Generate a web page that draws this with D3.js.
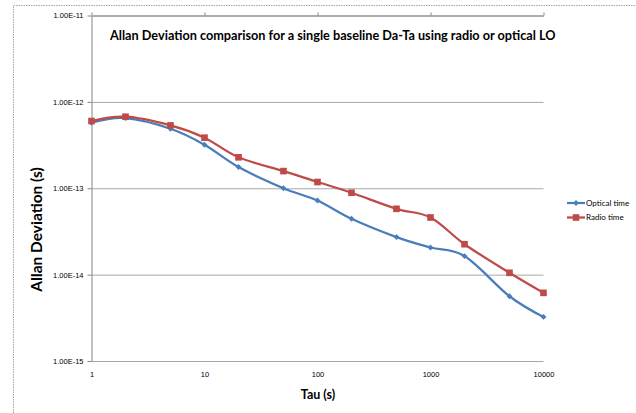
<!DOCTYPE html>
<html>
<head>
<meta charset="utf-8">
<script src="https://cdn.jsdelivr.net/npm/d3@7"></script>
<style>
  body { margin: 0; background: #fff; }
  svg { display: block; font-family: Lato, "Liberation Sans", sans-serif; }
  .tick text { fill: #000; }
</style>
</head>
<body>
<svg id="chart"></svg>
<script>
var width = 636,
    height = 413;

var tau = [1, 2, 5, 10, 20, 50, 100, 200, 500, 1000, 2000, 5000, 10000];
var optical = [5.74e-13, 6.49e-13, 4.89e-13, 3.19e-13, 1.76e-13, 1.0e-13, 7.22e-14,
               4.43e-14, 2.72e-14, 2.06e-14, 1.64e-14, 5.62e-15, 3.24e-15];
var radio = [6.0e-13, 6.73e-13, 5.34e-13, 3.85e-13, 2.28e-13, 1.58e-13, 1.18e-13,
             8.87e-14, 5.78e-14, 4.59e-14, 2.25e-14, 1.05e-14, 6.15e-15];
var yTicks = [1e-15, 1e-14, 1e-13, 1e-12, 1e-11];
var yTickLabels = ["1.00E-15", "1.00E-14", "1.00E-13", "1.00E-12", "1.00E-11"];
var xTicks = [1, 10, 100, 1000, 10000];
var xTickLabels = ["1", "10", "100", "1000", "10000"];
var seriesNames = ["Optical time", "Radio time"];

// plot area edges ("top" is reserved on window, so use other names)
var pLeft = 91.5, pRight = 543.5, pTop = 15.5, pBottom = 361;

var x = d3.scaleLog().domain([1, 10000]).range([pLeft, pRight]);
var y = d3.scaleLog().domain([1e-15, 1e-11]).range([pBottom, pTop]);

var chart = d3.select("#chart")
              .attr("width", width)
              .attr("height", height);

// chart area border
chart.append("rect")
     .attr("x", 13.5).attr("y", 5.5)
     .attr("width", 700).attr("height", 500)
     .attr("fill", "none")
     .attr("stroke", "#a6a6a6")
     .attr("stroke-dasharray", "1.5,1");

// gridlines
chart.append("g")
     .attr("transform", "translate(" + pLeft + ",0)")
     .call(d3.axisLeft(y).tickValues(yTicks).tickSize(-(pRight - pLeft)).tickFormat(""))
     .call(function(g) {
       g.select(".domain").remove();
       g.selectAll("line").attr("stroke", "#a8a8a8");
     });

// y axis
chart.append("g")
     .attr("transform", "translate(" + pLeft + ",0)")
     .call(d3.axisLeft(y).tickValues(yTicks).tickSize(4).tickSizeOuter(0).tickPadding(4)
             .tickFormat(function(d, i) { return yTickLabels[i]; }))
     .call(function(g) {
       g.select(".domain").attr("stroke", "#868686");
       g.selectAll("line").attr("stroke", "#868686");
       g.selectAll("text").style("font-size", "7.5px");
     });

// x axis line at top (crosses at max)
chart.append("g")
     .attr("transform", "translate(0," + pTop + ")")
     .call(d3.axisTop(x).tickValues(xTicks).tickSize(3).tickSizeOuter(0).tickFormat(""))
     .call(function(g) {
       g.select(".domain").attr("stroke", "#868686");
       g.selectAll("line").attr("stroke", "#868686");
     });

// x labels at bottom
chart.append("g")
     .attr("transform", "translate(0," + pBottom + ")")
     .call(d3.axisBottom(x).tickValues(xTicks).tickSize(0).tickPadding(11)
             .tickFormat(function(d, i) { return xTickLabels[i]; }))
     .call(function(g) {
       g.select(".domain").remove();
       g.selectAll("text").style("font-size", "7.5px");
     });

var line = d3.line()
             .x(function(d) { return x(d[0]); })
             .y(function(d) { return y(d[1]); })
             .curve(d3.curveCardinal.tension(0));

var blue = "#4a7ebb", red = "#be4b48";

function zip(vals) { return tau.map(function(t, i) { return [t, vals[i]]; }); }

chart.append("path")
     .attr("d", line(zip(optical)))
     .attr("fill", "none").attr("stroke", blue).attr("stroke-width", 2.25);
chart.append("path")
     .attr("d", line(zip(radio)))
     .attr("fill", "none").attr("stroke", red).attr("stroke-width", 2.25);

var diamond = d3.symbol().type(d3.symbolDiamond2).size(22);
var square = d3.symbol().type(d3.symbolSquare).size(44);

chart.selectAll("path.opt")
     .data(zip(optical))
     .enter().append("path")
       .attr("class", "opt")
       .attr("d", diamond)
       .attr("fill", blue)
       .attr("transform", function(d) { return "translate(" + x(d[0]) + "," + y(d[1]) + ")"; });

chart.selectAll("path.rad")
     .data(zip(radio))
     .enter().append("path")
       .attr("class", "rad")
       .attr("d", square)
       .attr("fill", red)
       .attr("transform", function(d) { return "translate(" + x(d[0]) + "," + y(d[1]) + ")"; });

// titles
chart.append("text")
     .attr("x", 110).attr("y", 40)
     .style("font-weight", "bold").style("font-size", "12.7px")
     .text("Allan Deviation comparison for a single baseline Da-Ta using radio or optical LO");

chart.append("text")
     .attr("transform", "translate(42,229.5) rotate(-90)")
     .attr("text-anchor", "middle")
     .style("font-weight", "bold").style("font-size", "15.5px")
     .text("Allan Deviation (s)");

chart.append("text")
     .attr("x", 318).attr("y", 399)
     .attr("text-anchor", "middle")
     .style("font-weight", "bold").style("font-size", "12.5px")
     .text("Tau (s)");

// legend
var legend = chart.selectAll("g.legend")
     .data(seriesNames)
     .enter().append("g")
       .attr("class", "legend")
       .attr("transform", function(d, i) { return "translate(567," + (203 + i * 14.5) + ")"; });

legend.append("line")
      .attr("x1", 0).attr("x2", 18)
      .attr("stroke", function(d, i) { return i ? red : blue; })
      .attr("stroke-width", 2.25);
legend.append("path")
      .attr("d", function(d, i) { return i ? square() : diamond(); })
      .attr("transform", "translate(9,0)")
      .attr("fill", function(d, i) { return i ? red : blue; });
legend.append("text")
      .attr("x", 19).attr("dy", "0.35em")
      .style("font-size", "8px")
      .text(function(d) { return d; });
</script>
</body>
</html>
